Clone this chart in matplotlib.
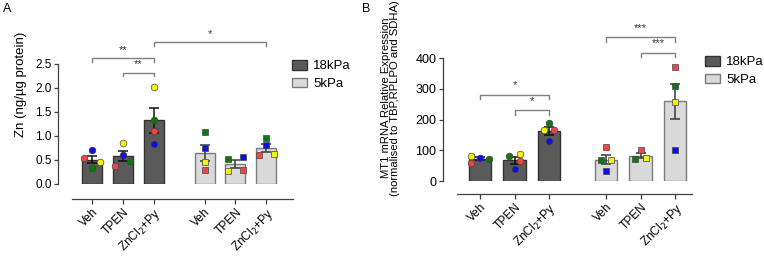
import matplotlib
matplotlib.use('Agg')
import matplotlib.pyplot as plt
from matplotlib.patches import Patch
import numpy as np

plt.rcParams['font.family'] = ['Liberation Sans', 'DejaVu Sans']

# ---- data ----
groups = ['18kPa', '18kPa', '18kPa', '5kPa', '5kPa', '5kPa']
tick_labels = ['Veh', 'TPEN', 'ZnCl$_2$+Py', 'Veh', 'TPEN', 'ZnCl$_2$+Py']
replicates = ['red', 'blue', 'green', 'yellow']

# panel A: Zn (ng/ug protein), one list per bar, order = replicates
zn_veh_18 = [0.55, 0.71, 0.33, 0.45]
zn_tpen_18 = [0.38, 0.61, 0.48, 0.85]
zn_zn_18 = [1.11, 0.83, 1.33, 2.03]
zn_veh_5 = [0.30, 0.74, 1.09, 0.45]
zn_tpen_5 = [0.30, 0.56, 0.53, 0.28]
zn_zn_5 = [0.60, 0.81, 0.95, 0.62]

# panel B: MT1 mRNA relative expression
mt1_veh_18 = [60, 76, 73, 80]
mt1_tpen_18 = [65, 38, 80, 89]
mt1_zn_18 = [165, 130, 189, 166]
mt1_veh_5 = [111, 34, 67, 67]
mt1_tpen_5 = [102, None, 73, 74]
mt1_zn_5 = [372, 101, 308, 257]

# significance: (bar i, bar j, label)
sig_a = [(0, 2, '**'), (1, 2, '**'), (2, 5, '*')]
sig_b = [(0, 2, '*'), (1, 2, '*'), (3, 5, '***'), (4, 5, '***')]

# ---- layout / style ----
xpos = np.array([0, 1, 2, 3.65, 4.65, 5.65])
bar_w = 0.65
bar_color = {'18kPa': '#5a5a5a', '5kPa': '#d9d9d9'}
bar_edge = {'18kPa': '#333333', '5kPa': '#7a7a7a'}
err_color = {'18kPa': '#111111', '5kPa': '#3a3a3a'}
marker = {'18kPa': 'o', '5kPa': 's'}
pt_color = {'red': '#f24444', 'blue': '#0d0de6', 'green': '#0a7a0a', 'yellow': '#f5f20a'}
axis_col = '#404040'

# horizontal dodge of the dots (in dodge units)
dodge_a = [[-1, 0, 0, 1], [-1, 0, 1, 0], [0, 0, 0, 0],
           [0, 0, 0, 0], [1, 1, -1, -1], [-1, 0, 0, 1]]
dodge_b = [[-1, 0, 1, -1], [0.6, 0, -0.6, 0.6], [0.6, 0, 0, -0.6],
           [0, 0, -0.6, 0.6], [0, 0, -0.6, 0.6], [0, 0, 0, 0]]


def draw_panel(ax, data, dodge, dodge_w, sigs, ylim, yticks, ytop, drop, ylabel,
               xlim, out_left, out_bottom, fmt, yfs, label_xy, label_fs):
    # spines first: set_position resets the tick settings
    for s in ['top', 'right']:
        ax.spines[s].set_visible(False)
    ax.spines['left'].set_position(('outward', out_left))
    ax.spines['bottom'].set_position(('outward', out_bottom))

    for i, vals in enumerate(data):
        g = groups[i]
        v = np.array([x for x in vals if x is not None], dtype=float)
        mean = v.mean()
        sem = v.std(ddof=1) / np.sqrt(len(v))
        ax.bar(xpos[i], mean, width=bar_w, color=bar_color[g],
               edgecolor=bar_edge[g], linewidth=1.0, zorder=2)
        ax.errorbar(xpos[i], mean, yerr=sem, color=err_color[g], capsize=3.8,
                    elinewidth=1.1, capthick=1.1, zorder=3)
        for k, val in enumerate(vals):
            if val is None:
                continue
            ax.plot(xpos[i] + dodge[i][k] * dodge_w, val, marker=marker[g],
                    color=pt_color[replicates[k]], markersize=4.8,
                    markeredgecolor='#444444', markeredgewidth=0.5,
                    linestyle='none', zorder=4, clip_on=False)
    for (i, j, lab), y in zip(sigs, ytop):
        ax.plot([xpos[i], xpos[i], xpos[j], xpos[j]], [y - drop, y, y, y - drop],
                color='#808080', lw=1.0, clip_on=False, zorder=1)
        ax.text((xpos[i] + xpos[j]) / 2, y + drop * 1.0, lab, ha='center',
                va='bottom', fontsize=8, color='#333333')

    ax.set_xlim(*xlim)
    ax.set_ylim(*ylim)
    ax.spines['left'].set_bounds(yticks[0], yticks[-1])
    ax.set_yticks(yticks)
    ax.set_yticklabels([fmt(t) for t in yticks])
    ax.set_xticks(xpos)
    ax.set_xticklabels(tick_labels, rotation=45, ha='right',
                       rotation_mode='anchor', fontsize=8.6)
    ax.set_ylabel(ylabel, fontsize=label_fs, linespacing=0.95)
    ax.yaxis.set_label_coords(*label_xy)
    for s in ['left', 'bottom']:
        ax.spines[s].set_color(axis_col)
        ax.spines[s].set_linewidth(0.9)
    ax.tick_params(axis='y', length=3, width=0.9, color=axis_col,
                   labelsize=yfs, pad=1.5)
    ax.tick_params(axis='x', length=3.5, width=0.9, color=axis_col, pad=1.5)

    handles = [Patch(facecolor=bar_color[g], edgecolor=bar_edge[g], label=g)
               for g in ['18kPa', '5kPa']]
    return handles


fig = plt.figure(figsize=(7.64, 2.56), dpi=100)
leg_kw = dict(loc='upper left', frameon=False, fontsize=9.5, handlelength=1.1,
              handleheight=0.75, handletextpad=0.5, labelspacing=0.4,
              borderpad=0, borderaxespad=0, bbox_transform=fig.transFigure)

ax_a = fig.add_axes([72 / 764, 72 / 256, 221 / 764, 153.6 / 256])
h = draw_panel(ax_a, [zn_veh_18, zn_tpen_18, zn_zn_18, zn_veh_5, zn_tpen_5, zn_zn_5],
               dodge_a, 0.245, sig_a, (0, 3.2), [0, 0.5, 1.0, 1.5, 2.0, 2.5],
               [2.62, 2.32, 2.95], 0.075, 'Zn (ng/\u00b5g protein)',
               (-0.65, 6.52), 10, 10.8, lambda t: f'{t:.1f}', 8.5,
               (-0.205, 0.65), 9.5)
ax_a.legend(handles=h, bbox_to_anchor=(292 / 764, 1 - 60 / 256), **leg_kw)

ax_b = fig.add_axes([456.7 / 764, 75 / 256, 235 / 764, 159.6 / 256])
h = draw_panel(ax_b, [mt1_veh_18, mt1_tpen_18, mt1_zn_18, mt1_veh_5, mt1_tpen_5, mt1_zn_5],
               dodge_b, 0.25, sig_b, (0, 520), [0, 100, 200, 300, 400],
               [281, 230, 468, 418], 15,
               'MT1 mRNA Relative Expression\n(normalised to TBP,RPLPO and SDHA)',
               (-0.675, 6.13), 10, 9.4, lambda t: f'{t:d}', 9,
               (-0.24, 0.52), 8.1)
ax_b.legend(handles=h, bbox_to_anchor=(705 / 764, 1 - 56 / 256), **leg_kw)

fig.text(3 / 764, 1 - 3 / 256, 'A', ha='left', va='top', fontsize=9)
fig.text(362 / 764, 1 - 3 / 256, 'B', ha='left', va='top', fontsize=9)

fig.savefig('out.png', dpi=100)
plt.close(fig)
